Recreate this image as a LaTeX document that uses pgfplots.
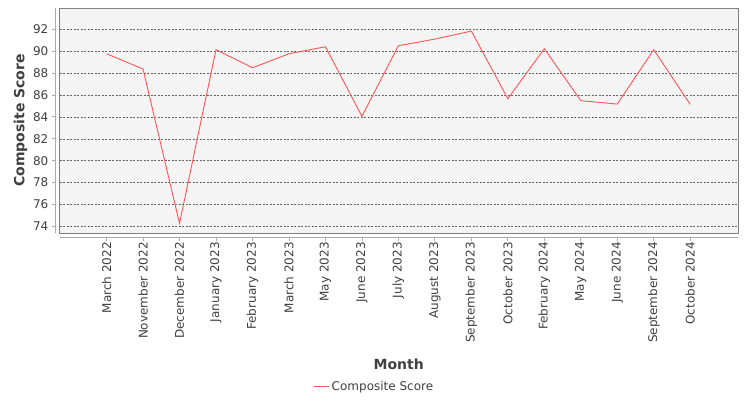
\documentclass[border=0pt]{standalone}
\usepackage{pgfplots}
\pgfplotsset{compat=1.18}
\usepackage{fontspec}
\setmainfont{DejaVu Sans}
\definecolor{serred}{HTML}{FF5555}
\definecolor{plotbg}{HTML}{F4F4F4}
\definecolor{txt}{HTML}{404040}
\definecolor{axgray}{HTML}{AAAAAA}
\begin{document}
\begin{tikzpicture}[x=1bp,y=1bp]
\path[use as bounding box, fill=white] (0,0) rectangle (750,400);
\begin{axis}[
  at={(59.5bp,167bp)}, anchor=south west,
  scale only axis, width=678.5bp, height=225bp,
  xmin=-1.29, xmax=17.31, ymin=73.39, ymax=93.95,
  axis background/.style={fill=plotbg},
  axis line style={draw=black!50, line width=0.9bp},
  xtick={0,...,16},
  xticklabels={March 2022,November 2022,December 2022,January 2023,February 2023,March 2023,May 2023,June 2023,July 2023,August 2023,September 2023,October 2023,February 2024,May 2024,June 2024,September 2024,October 2024},
  ytick={74,76,...,92},
  tick style={draw=none},
  ymajorgrids,
  grid style={draw=black!60, dash pattern=on 2bp off 1.5bp, line width=0.5bp},
  /pgf/number format/assume math mode=true,
  ticklabel style={font=\fontsize{12bp}{14bp}\selectfont, text=txt},
  yticklabel style={inner sep=0pt, anchor=east, xshift=-11bp},
  xticklabel style={inner sep=0pt, yshift=-9bp, rotate=90, anchor=east},
  xlabel={\textbf{Month}},
  ylabel={\textbf{Composite Score}},
  label style={font=\fontsize{14bp}{16bp}\selectfont, text=txt},
  xlabel style={at={(axis description cs:0.5,-0.582)}, anchor=center},
  ylabel style={at={(axis description cs:-0.0575,0.5)}, anchor=center, rotate=0},
  legend style={at={(axis description cs:0.4643,-0.684)}, anchor=center, draw=none, fill=none,
    font=\fontsize{12bp}{14bp}\selectfont, text=txt, inner sep=0pt},
  legend image code/.code={\draw[#1] (0bp,0bp) -- (15bp,0bp);},
  clip=false,
]
\addplot[serred, line width=0.9bp] coordinates {
(0,89.77) (1,88.37) (2,74.27) (3,90.14) (4,88.49) (5,89.77) (6,90.41) (7,84.05)
(8,90.50) (9,91.11) (10,91.84) (11,85.66) (12,90.23) (13,85.48) (14,85.17) (15,90.14) (16,85.14)
};
\addlegendentry{Composite Score}
\end{axis}
% offset axis lines (JFreeChart style)
\draw[axgray, line width=0.8bp] (55,167) -- (55,392);
\draw[axgray, line width=0.8bp] (59.5,162.7) -- (738,162.7);
\foreach \yy in {74,76,...,92} {
  \pgfmathsetmacro{\py}{167+(\yy-73.39)*225/(93.95-73.39)}
  \draw[axgray, line width=0.8bp] (51.5,\py) -- (55,\py);
}
\foreach \xx in {0,...,16} {
  \pgfmathsetmacro{\px}{59.5+(\xx+1.29)*678.5/(17.31+1.29)}
  \draw[axgray, line width=0.8bp] (\px,162.7) -- (\px,159.5);
}
\end{tikzpicture}
\end{document}
